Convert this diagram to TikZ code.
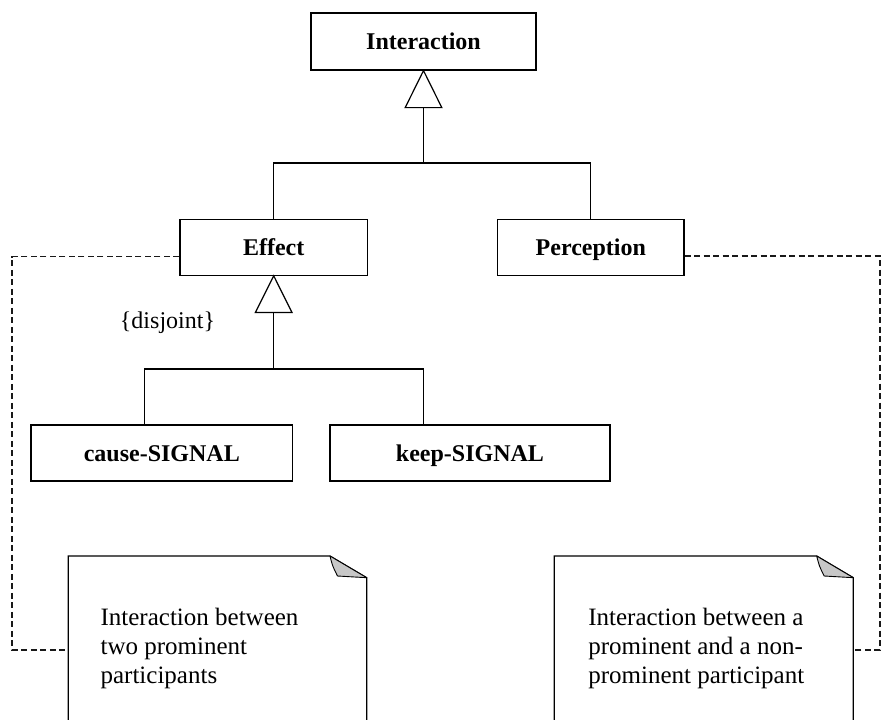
\documentclass[tikz,border=0pt]{standalone}
\usepackage{fontspec}
\setmainfont{Liberation Serif}
\usetikzlibrary{calc}
\begin{document}
\begin{tikzpicture}[x=1pt,y=-1pt,
  line width=1.2pt,
  cls/.style={draw, fill=white, inner sep=0pt, minimum height=56pt,
    text height=16pt, text depth=0pt,
    font=\fontsize{24}{28}\selectfont\bfseries},
  gen/.style={draw, fill=white, line join=miter},
  tie/.style={draw=black!90, dash pattern=on 6pt off 3.5pt, line width=1.3pt},
  notebody/.style={draw, fill=white},
  notefold/.style={draw, fill=black!22, line width=0.9pt, line join=round},
  notetext/.style={anchor=north west, inner sep=0pt, align=left,
    font=\fontsize{25}{29.2}\selectfont},
]
\useasboundingbox (0,0) rectangle (881,720);
\clip (0,0) rectangle (881,720);

% classes
\node[cls, minimum width=225pt, minimum height=57pt] (inter) at (423.5,41.5) {Interaction};
\node[cls, minimum width=187.3pt] (eff) at (273.7,247.2) {Effect};
\node[cls, minimum width=186.3pt] (perc) at (590.8,247.2) {Perception};
\node[cls, minimum width=261.7pt] (cause) at (161.8,453) {cause-SIGNAL};
\node[cls, minimum width=280pt] (keep) at (470,453) {keep-SIGNAL};

% generalization: Effect, Perception -> Interaction
\draw[gen] (inter.south) -- ++(18.3,37) -- ++(-36.6,0) -- cycle;
\coordinate (g1) at ($(inter.south)+(0,37)$);
\coordinate (j1) at (g1 |- 0,163);
\draw (g1) -- (j1);
\draw (eff.north) |- (j1) -| (perc.north);

% generalization: cause-SIGNAL, keep-SIGNAL -> Effect
\draw[gen] (eff.south) -- ++(18.3,36.7) -- ++(-36.6,0) -- cycle;
\coordinate (g2) at ($(eff.south)+(0,36.7)$);
\coordinate (j2) at (g2 |- 0,369);
\draw (g2) -- (j2);
\draw ([xshift=-17.5pt]cause.north) |- (j2) -| ([xshift=-46.7pt]keep.north);

\node[anchor=base, font=\fontsize{24}{28}\selectfont] (disj) at (167.5,328) {\{disjoint\}};

% left note
\draw[notebody] (68.3,730) -- (68.3,556) -- (330,556) -- (366.7,577.7) -- (366.7,730);
\draw[notefold] (330,556) .. controls (332.5,566) .. (337.5,576) -- (366.7,577.7) -- cycle;
\coordinate (lnw) at (68.3,650);
\node[notetext] (ltext) at (100,607.5) {Interaction between\\two prominent\\participants};

% right note
\draw[notebody] (554.3,730) -- (554.3,556) -- (816.7,556) -- (853.3,577.7) -- (853.3,730);
\draw[notefold] (816.7,556) .. controls (819.2,566) .. (824.2,576) -- (853.3,577.7) -- cycle;
\coordinate (rne) at (853.3,650);
\node[notetext] (rtext) at (587.7,607.5) {Interaction between a\\prominent and a non-\\prominent participant};

% note attachments
\draw[tie] ([yshift=-9.5pt]eff.west) -| (12,650) -- (lnw);
\draw[tie] ([yshift=-8.8pt]perc.east) -| (880,650) -- (rne);
\end{tikzpicture}
\end{document}
